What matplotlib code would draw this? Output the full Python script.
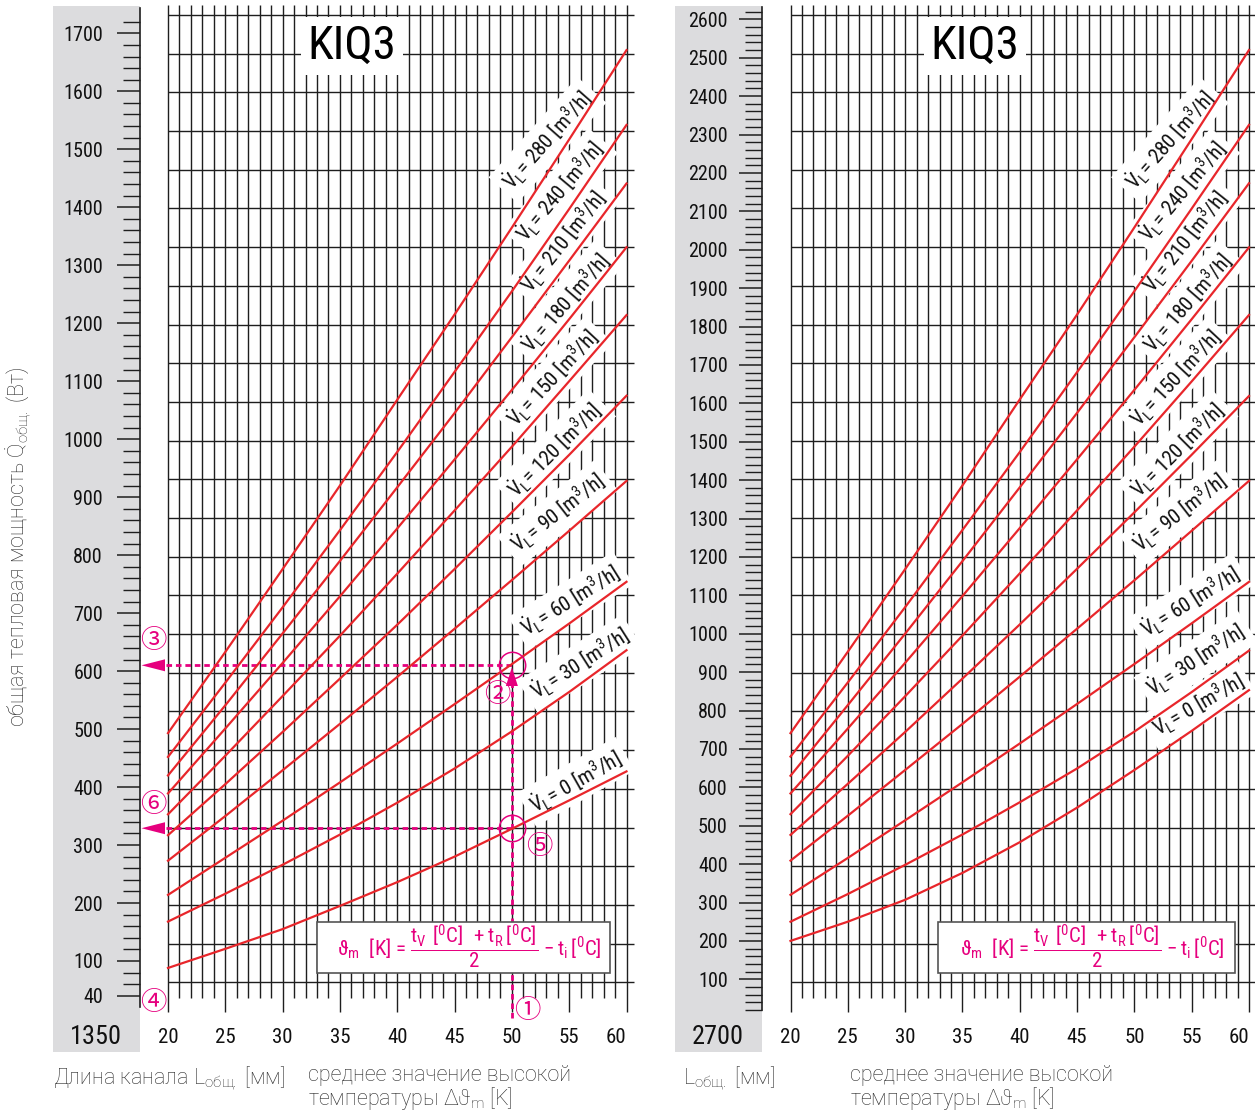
import numpy as np
import matplotlib
matplotlib.use("Agg")
import matplotlib.pyplot as plt
from matplotlib import font_manager as fm
from matplotlib.patches import Rectangle, Polygon
from matplotlib.transforms import Affine2D
from matplotlib.font_manager import FontProperties
from matplotlib.textpath import TextToPath
from matplotlib.ft2font import LOAD_NO_HINTING

# ---------------------------------------------------------------- data
dT = [20, 25, 30, 35, 40, 45, 50, 55, 60]          # mean temperature difference [K]
dT_ticks = [20, 25, 30, 35, 40, 45, 50, 55, 60]
flows = [0, 30, 60, 90, 120, 150, 180, 210, 240, 280]   # V_L [m3/h]

# channel length 1350 mm  -> heat output [W]
q1350_v0 = [88, 121, 155, 195, 236, 280, 328, 377, 427]
q1350_v30 = [168, 216, 266, 318, 373, 432, 496, 564, 636]
q1350_v60 = [214, 278, 342, 408, 475, 543, 612, 682, 754]
q1350_v90 = [273, 350, 429, 509, 590, 673, 757, 842, 928]
q1350_v120 = [317, 405, 495, 587, 680, 776, 874, 973, 1075]
q1350_v150 = [353, 454, 557, 661, 768, 877, 987, 1100, 1214]
q1350_v180 = [389, 501, 614, 729, 846, 965, 1085, 1207, 1331]
q1350_v210 = [420, 541, 665, 790, 917, 1045, 1176, 1308, 1441]
q1350_v240 = [452, 580, 710, 843, 978, 1116, 1255, 1397, 1542]
q1350_v280 = [493, 633, 776, 920, 1068, 1215, 1365, 1517, 1671]

# channel length 2700 mm  -> heat output [W]
q2700_v0 = [200, 250, 307, 377, 457, 547, 645, 747, 853]
q2700_v30 = [250, 322, 398, 477, 561, 649, 745, 848, 956]
q2700_v60 = [320, 416, 514, 613, 714, 817, 921, 1027, 1135]
q2700_v90 = [409, 526, 645, 765, 888, 1013, 1139, 1268, 1398]
q2700_v120 = [476, 609, 744, 883, 1024, 1169, 1316, 1466, 1619]
q2700_v150 = [530, 682, 837, 995, 1157, 1321, 1487, 1657, 1830]
q2700_v180 = [584, 753, 924, 1098, 1275, 1454, 1635, 1819, 2006]
q2700_v210 = [630, 814, 1000, 1189, 1381, 1575, 1772, 1971, 2173]
q2700_v240 = [680, 873, 1069, 1270, 1473, 1681, 1892, 2107, 2325]
q2700_v280 = [741, 953, 1168, 1386, 1610, 1831, 2058, 2288, 2520]

series_1350 = [q1350_v0, q1350_v30, q1350_v60, q1350_v90, q1350_v120,
               q1350_v150, q1350_v180, q1350_v210, q1350_v240, q1350_v280]
series_2700 = [q2700_v0, q2700_v30, q2700_v60, q2700_v90, q2700_v120,
               q2700_v150, q2700_v180, q2700_v210, q2700_v240, q2700_v280]

ticks_1350 = [40] + list(range(100, 1701, 100))
ticks_2700 = list(range(100, 2601, 100))

# example reading (left chart)
ex_dT = 50
ex_q_v60 = 610
ex_q_v0 = 329

# ---------------------------------------------------------------- style
plt.rcParams['font.family'] = ['DejaVu Sans']
plt.rcParams['mathtext.fontset'] = 'custom'
plt.rcParams['mathtext.default'] = 'regular'

RED = '#e8262b'
MAG = '#e6007e'
GRID = '#1e1e1e'
BAND = '#dcdcde'
TXT = '#111111'

W_PX, H_PX, DPI = 1255, 1113, 100

# --- pick a regular-weight plain sans face whose proportions are closest to
#     the condensed face of the reference ("1700": 38 px wide, caps 15 px high)
ALLOWED = {'Noto Sans', 'Noto Sans Condensed', 'Noto Sans SemiCondensed',
           'Noto Sans ExtraCondensed', 'DejaVu Sans', 'DejaVu Sans Condensed',
           'Liberation Sans', 'Liberation Sans Narrow', 'Roboto', 'Roboto Condensed',
           'Open Sans', 'Open Sans Condensed', 'Open Sans SemiCondensed', 'Lato', 'Inter'}
_ttp = TextToPath()


def _wh(s, fp):
    w, h, d = _ttp.get_text_width_height_descent(s, fp, ismath=False)
    return w * DPI / 72.0, (h - d) * DPI / 72.0


def _stem_ratio(ft):
    ft.set_size(100, 72)
    g = ft.load_char(ord('I'), flags=LOAD_NO_HINTING)
    return g.width / float(g.height) if g.height else 0.0


def _pick_font():
    seen, cands = set(), []
    need = 'VLmh[]/KIQ0123456789='
    for e in fm.fontManager.ttflist:
        if e.style != 'normal' or e.name not in ALLOWED or e.fname in seen:
            continue
        seen.add(e.fname)
        try:
            ft = fm.get_font(e.fname)
            if any(ft.get_char_index(ord(c)) == 0 for c in need):
                continue
            stem = _stem_ratio(ft)
            fp = FontProperties(fname=e.fname, size=10)
            w, _ = _wh('1700', fp)
            _, h = _wh('H', fp)
        except Exception:
            continue
        if h <= 0:
            continue
        ok = 0.1 <= stem <= 0.16
        cands.append((0 if ok else 1, abs(np.log((w / h) / 2.53)), w / 10.0, h / 10.0, e.fname))
    if not cands:
        p = fm.findfont(FontProperties(family='DejaVu Sans'))
        fp = FontProperties(fname=p, size=10)
        return (0, 0, _wh('1700', fp)[0] / 10, _wh('H', fp)[1] / 10, p)
    cands.sort()
    return cands[0]


_ok, _sc, _w_pt, _h_pt, COND_PATH = _pick_font()
_size_w = 38.0 / _w_pt
_size_h = 15.0 / _h_pt
FS = np.sqrt(_size_w * _size_h) / 15.0


def F(size):
    return FontProperties(fname=COND_PATH, size=size * FS)


fig = plt.figure(figsize=(W_PX / DPI, H_PX / DPI), dpi=DPI)
fig.patch.set_facecolor('white')
px_tr = Affine2D().scale(1.0 / W_PX, -1.0 / H_PX).translate(0, 1) + fig.transFigure

PX_PER_K = 11.4625


def rect(x0, y0, x1, y1):
    return [x0 / W_PX, 1 - y1 / H_PX, (x1 - x0) / W_PX, (y1 - y0) / H_PX]


def lbl(v):
    return r'$\dot{V}_{L}$= %d [m$^{3}$/h]' % v


FORMULA = (r'$\vartheta_{m}$  [K] = $\dfrac{t_{V}\ [^{0}C]\ +t_{R}\,[^{0}C]}{2}$'
           r' $-\,t_{i}\,[^{0}C]$')

panels = [
    dict(length='1350', band=(53, 140), main=(140, 640), x20=168.0,
         px100=961.0, scale=0.5798, hl_end=634, series=series_1350,
         majors=ticks_1350, minors=[v for v in range(60, 1721, 20) if v not in ticks_1350],
         pad=-36, spine=(1007, 8), kiq=352,
         lab_px=[(575.8, 781.7), (580, 664), (570.8, 600.8), (557.5, 513.3), (555, 450),
                 (553.3, 378.3), (565.8, 302.5), (563.3, 241.7), (560, 191.7), (547.5, 140)],
         lab_rot=[29.5, 32.5, 32, 38, 45, 47, 49, 51.5, 50, 48.5],
         box=(317, 922, 610, 973), example=True),
    dict(length='2700', band=(675, 762), main=(762, 1255), x20=790.5,
         px100=979.3, scale=0.384, hl_end=1255, series=series_2700,
         majors=ticks_2700, minors=[v for v in range(20, 2621, 20) if v not in ticks_2700],
         pad=-38, spine=(1010, 7), kiq=975,
         lab_px=[(1198, 705), (1196, 660), (1190, 602), (1180, 513.3), (1177.5, 450),
                 (1175.8, 378.3), (1188.3, 302.5), (1185.8, 241.7), (1182.5, 191.7), (1170, 140)],
         lab_rot=[30, 33, 32, 38, 45, 47, 49, 51.5, 50, 48.5],
         box=(938, 922, 1235, 973), example=False),
]


def draw_panel(p):
    def val(py):
        return 100 + (p['px100'] - py) / p['scale']

    def pix(q):
        return p['px100'] - (q - 100) * p['scale']

    def xdat(px):
        return 20 + (px - p['x20']) / PX_PER_K

    def xpix(x):
        return p['x20'] + (x - 20) * PX_PER_K

    # ---------------- grey scale band
    b0, b1 = p['band']
    axb = fig.add_axes(rect(b0, 6, b1, 1052))
    axb.set_facecolor(BAND)
    axb.set_xlim(0, 1)
    axb.set_ylim(val(1052), val(6))
    for s in ['left', 'top', 'bottom']:
        axb.spines[s].set_visible(False)
    axb.spines['right'].set_linewidth(1.2)
    axb.spines['right'].set_color(GRID)
    axb.spines['right'].set_bounds(val(p['spine'][0]), val(p['spine'][1]))
    axb.set_xticks([])
    axb.set_yticks(p['majors'])
    axb.set_yticklabels([str(v) for v in p['majors']], fontproperties=F(15))
    axb.set_yticks(p['minors'], minor=True)
    axb.tick_params(axis='y', which='both', direction='in', left=False, right=True,
                    labelleft=True, labelright=False, color=GRID)
    axb.tick_params(axis='y', which='major', length=16.8, width=1.1, pad=p['pad'],
                    labelcolor=TXT)
    axb.tick_params(axis='y', which='minor', length=12.2, width=1.0)
    axb.text(0.494, (1052 - 1037) / 1046, p['length'], transform=axb.transAxes,
             ha='center', va='center', fontproperties=F(19.5), color=TXT)

    # ---------------- main grid axes
    m0, m1 = p['main']
    ax = fig.add_axes(rect(m0, 5, m1, 1020))
    ax.set_facecolor('none')
    ax.set_xlim(xdat(m0), xdat(m1))
    ax.set_ylim(val(1020), val(5))
    for s in ax.spines.values():
        s.set_visible(False)
    ax.set_yticks([])
    ax.set_xticks(dT_ticks)
    ax.set_xticklabels([str(v) for v in dT_ticks], fontproperties=F(15.5))
    ax.tick_params(axis='x', length=0, pad=5.5, labelcolor=TXT)
    ax.get_xticklabels()[-1].set_horizontalalignment('right')

    def yfrac(py):
        return (1020 - np.asarray(py, dtype=float)) / 1015.0

    xs = np.arange(20, 61)
    major = xs % 5 == 0
    tr = ax.get_xaxis_transform()
    ax.vlines(xs[~major], yfrac(998), yfrac(5), transform=tr, colors=GRID, lw=1.0, zorder=1)
    ax.vlines(xs[major], yfrac(1012), yfrac(5), transform=tr, colors=GRID, lw=1.0, zorder=1)
    hy = np.linspace(15, 982.3, 26)
    ax.hlines(yfrac(hy), 20, min(xdat(p['hl_end']), xdat(m1)), transform=tr,
              colors=GRID, lw=1.0, zorder=1)

    # ---------------- curves and their labels
    for v, q, (lx, ly), rot in zip(flows, p['series'], p['lab_px'], p['lab_rot']):
        ax.plot(dT, q, color=RED, lw=1.6, zorder=3, solid_joinstyle='round')
        ax.text(xdat(lx), val(ly), lbl(v), rotation=rot, rotation_mode='anchor',
                ha='center', va='center', fontproperties=F(15.5), color=TXT, zorder=2.5,
                bbox=dict(boxstyle='square,pad=0.28', fc='white', ec='none'))

    # ---------------- title
    ax.text(xdat(p['kiq']), val(46), 'KIQ3', ha='center', va='center',
            fontproperties=F(35), color='black', zorder=2.5,
            bbox=dict(boxstyle='square,pad=0.14', fc='white', ec='none'))

    # ---------------- formula box
    bx0, by0, bx1, by1 = p['box']
    ax.add_patch(Rectangle((xdat(bx0), val(by1)), xdat(bx1) - xdat(bx0), val(by0) - val(by1),
                           fc='white', ec='#555555', lw=1.2, zorder=2.6))
    ax.text(xdat((bx0 + bx1) / 2 + 6), val((by0 + by1) / 2 - 1), FORMULA, ha='center',
            va='center', fontproperties=F(15.5), color=MAG, zorder=2.7)

    # ---------------- worked example (left chart only)
    if p['example']:
        dash = dict(color=MAG, lw=2.0, dashes=(2.0, 1.4), zorder=2.55, clip_on=False)
        ax.plot([ex_dT, ex_dT], [val(1018), val(684)], **dash)
        for q in (ex_q_v60, ex_q_v0):
            ax.plot([xdat(166), ex_dT], [q, q], **dash)
            ax.plot([ex_dT], [q], marker='o', ms=19, mfc='none', mec=MAG, mew=1.1,
                    zorder=5, clip_on=False)
            yq = pix(q)
            ax.add_patch(Polygon([(xdat(141.5), q), (xdat(165), val(yq - 6)),
                                  (xdat(165), val(yq + 6))], closed=True,
                                 fc=MAG, ec='none', zorder=5, clip_on=False))
        xp = xpix(ex_dT)
        ax.add_patch(Polygon([(ex_dT, val(pix(ex_q_v60) + 2)), (xdat(xp - 6), val(686)),
                              (xdat(xp + 6), val(686))], closed=True,
                             fc=MAG, ec='none', zorder=5, clip_on=False))
        for num, (cx, cy) in zip(['\u2460', '\u2461', '\u2462', '\u2463', '\u2464', '\u2465'],
                                 [(527, 1010), (497, 695), (153.3, 641), (153.3, 1003),
                                  (539, 846), (153.3, 804)]):
            ax.text(xdat(cx), val(cy), num, family=['Noto Sans CJK JP', 'DejaVu Sans'],
                    fontsize=19, color=MAG, ha='center', va='center', zorder=6)


for p in panels:
    draw_panel(p)

# ---------------------------------------------------------------- outer texts
side = dict(transform=px_tr, family=['Roboto', 'DejaVu Sans'], fontweight='light',
            fontsize=15.5, color='#2a2a2a', va='center')
fig.text(18, 547, r'общая тепловая мощность $\dot{Q}_{общ.}$ (Вт)', rotation=90,
         ha='center', **side)
fig.text(53, 1078, r'Длина канала L$_{общ.}$ [мм]', ha='left', **side)
fig.text(308, 1075, 'среднее значение высокой', ha='left', **side)
fig.text(308, 1099, r'температуры $\Delta\vartheta_{m}$ [K]', ha='left', **side)
fig.text(683, 1078, r'L$_{общ.}$ [мм]', ha='left', **side)
fig.text(850, 1075, 'среднее значение высокой', ha='left', **side)
fig.text(850, 1099, r'температуры $\Delta\vartheta_{m}$ [K]', ha='left', **side)

fig.savefig('out.png', dpi=DPI, facecolor='white')
